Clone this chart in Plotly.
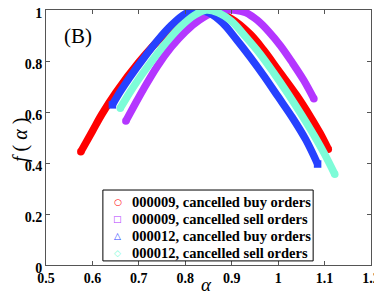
import plotly.graph_objects as go

# 000009, cancelled buy orders (red)
alpha_9b = [0.575, 0.60, 0.62, 0.65, 0.70, 0.75, 0.80, 0.85, 0.90, 0.94, 0.97, 1.00, 1.04, 1.07, 1.09, 1.108]
f_9b = [0.444, 0.525, 0.59, 0.675, 0.795, 0.895, 0.965, 1.0, 0.965, 0.905, 0.84, 0.765, 0.665, 0.58, 0.518, 0.454]

# 000009, cancelled sell orders (purple)
alpha_9s = [0.672, 0.69, 0.71, 0.74, 0.77, 0.80, 0.83, 0.86, 0.885, 0.905, 0.93, 0.955, 0.98, 1.005, 1.03, 1.055, 1.077]
f_9s = [0.565, 0.625, 0.69, 0.78, 0.855, 0.915, 0.96, 0.99, 1.0, 1.0, 0.99, 0.96, 0.915, 0.86, 0.795, 0.725, 0.652]

# 000012, cancelled buy orders (blue)
alpha_12b = [0.643, 0.66, 0.68, 0.71, 0.74, 0.77, 0.80, 0.825, 0.85, 0.88, 0.91, 0.94, 0.97, 1.00, 1.03, 1.06, 1.085]
f_12b = [0.628, 0.68, 0.735, 0.81, 0.88, 0.94, 0.985, 1.0, 0.99, 0.95, 0.885, 0.815, 0.74, 0.66, 0.58, 0.49, 0.396]

# 000012, cancelled sell orders (aquamarine)
alpha_12s = [0.66, 0.68, 0.70, 0.73, 0.76, 0.79, 0.82, 0.845, 0.87, 0.90, 0.93, 0.96, 0.99, 1.02, 1.05, 1.08, 1.10, 1.122]
f_12s = [0.615, 0.675, 0.73, 0.805, 0.875, 0.935, 0.98, 1.0, 0.99, 0.955, 0.895, 0.83, 0.755, 0.675, 0.59, 0.50, 0.435, 0.356]

series_names = ["000009, cancelled buy orders", "000009, cancelled sell orders",
                "000012, cancelled buy orders", "000012, cancelled sell orders"]
series_x = [alpha_9b, alpha_9s, alpha_12b, alpha_12s]
series_y = [f_9b, f_9s, f_12b, f_12s]
colors = ["#ff0000", "#b436ff", "#2641ff", "#7dfcd8"]
end_symbols = ["circle", "circle", "square", "circle"]
legend_glyphs = ["○", "□", "△", "◇"]

x_ticks = [0.5, 0.6, 0.7, 0.8, 0.9, 1.0, 1.1, 1.2]
x_tick_text = ["0.5", "0.6", "0.7", "0.8", "0.9", "1", "1.1", "1.2"]
y_ticks = [0, 0.2, 0.4, 0.6, 0.8, 1.0]
y_tick_text = ["0", "0.2", "0.4", "0.6", "0.8", "1"]

SERIF = "Liberation Serif"
LW = 7.5

fig = go.Figure()
for xs, ys, c, name, sym in zip(series_x, series_y, colors, series_names, end_symbols):
    fig.add_trace(go.Scatter(x=xs, y=ys, mode="lines", name=name,
                             line=dict(color=c, width=LW, shape="spline"),
                             showlegend=False, hoverinfo="skip"))
    fig.add_trace(go.Scatter(x=[xs[0], xs[-1]], y=[ys[0], ys[-1]], mode="markers",
                             marker=dict(color=c, size=LW, symbol=sym, line=dict(width=0)),
                             showlegend=False, hoverinfo="skip"))

axis_common = dict(showline=True, linecolor="#555555", linewidth=1, mirror="ticks",
                   ticks="inside", ticklen=4, tickcolor="#555555", showgrid=False, zeroline=False,
                   automargin=False, ticklabeloverflow="allow",
                   tickfont=dict(family=SERIF, size=14, color="black", weight="bold"))

annotations = [
    dict(text="(B)", x=0.097, y=0.898, xref="paper", yref="paper", xanchor="center", yanchor="middle",
         showarrow=False, font=dict(family=SERIF, size=21, color="black")),
    dict(text="<i>α</i>", x=0.495, y=-0.078, xref="paper", yref="paper", xanchor="center", yanchor="middle",
         showarrow=False, font=dict(family=SERIF, size=19, color="black")),
    dict(text="<i>f</i> ( <i>α</i> )", x=-0.08, y=0.49, xref="paper", yref="paper",
         xanchor="center", yanchor="middle",
         textangle=-90, showarrow=False, font=dict(family=SERIF, size=20, color="black")),
]
legend_y = [0.248, 0.181, 0.115, 0.048]
for c, g, n, yy in zip(colors, legend_glyphs, series_names, legend_y):
    annotations.append(dict(text=g, x=0.2215, y=yy, xref="paper", yref="paper", showarrow=False,
                            xanchor="center", yanchor="middle",
                            font=dict(family="DejaVu Sans", size=9, color=c)))
    annotations.append(dict(text=f"<b>{n}</b>", x=0.2585, y=yy, xref="paper", yref="paper",
                            xanchor="left", yanchor="middle", showarrow=False,
                            font=dict(family=SERIF, size=14.5, color="black")))

# The page shows the figure with an 8px body offset; margins compensate so the
# plot area lands at page pixels x 46..371, y 10..265.
fig.update_layout(
    width=382, height=295,
    margin=dict(l=38, r=19, t=2, b=38, autoexpand=False),
    paper_bgcolor="white", plot_bgcolor="white",
    showlegend=False,
    xaxis=dict(range=[0.5, 1.2], tickvals=x_ticks, ticktext=[f"<b>{t}</b>" for t in x_tick_text],
               **axis_common),
    yaxis=dict(range=[0, 1], tickvals=y_ticks, ticktext=[f"<b>{t}</b>" for t in y_tick_text],
               ticklabelshift=3, **axis_common),
    shapes=[dict(type="rect", xref="paper", yref="paper", x0=0.175, x1=0.822, y0=0.016, y1=0.294,
                 line=dict(color="black", width=1), fillcolor="white", layer="above")],
    annotations=annotations,
)

fig.write_html("out.html")
